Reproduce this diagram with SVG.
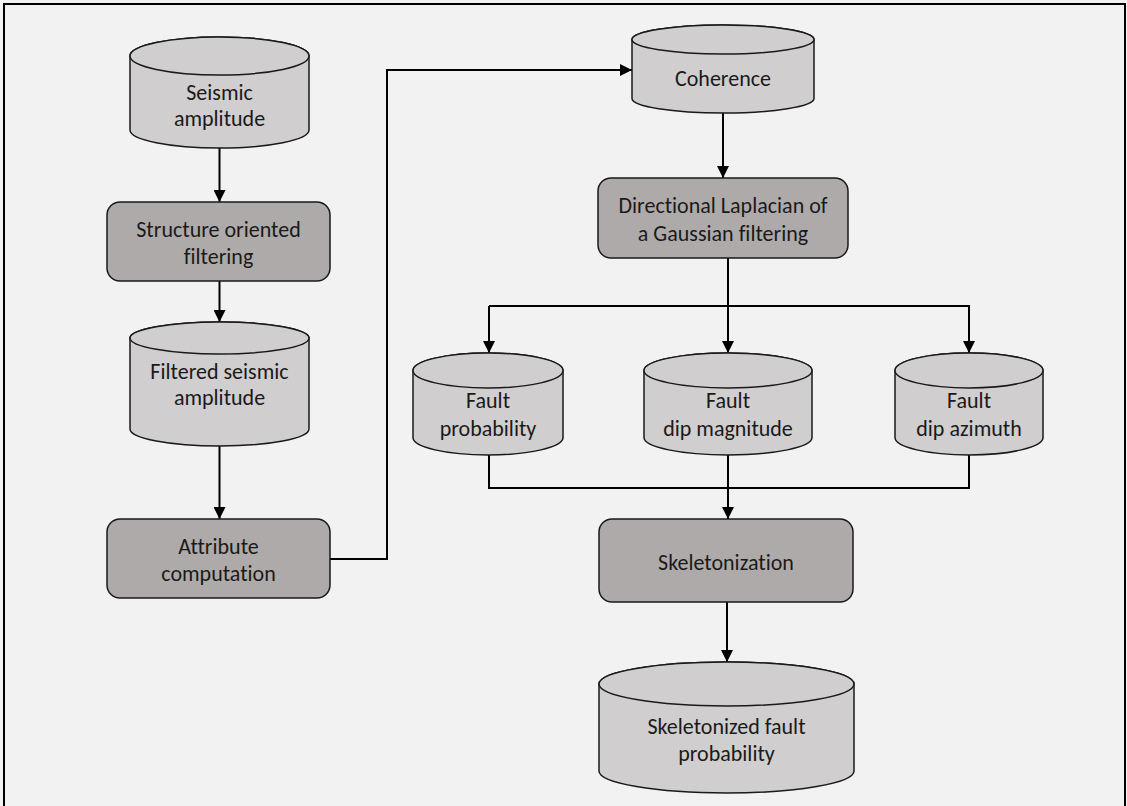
<svg xmlns="http://www.w3.org/2000/svg" width="1127" height="806" viewBox="0 0 1127 806">
<style>
.bg{fill:#f2f2f2}
.frame{fill:none;stroke:#000;stroke-width:2}
.cyl{fill:#d0cece;stroke:#1a1a1a;stroke-width:1.5}
.box{fill:#aeaaaa;stroke:#1a1a1a;stroke-width:1.5}
.t{font-family:Carlito,Lato,"Open Sans",sans-serif;font-size:22px;fill:#1a1a1a;text-anchor:middle;dominant-baseline:central;font-variant-ligatures:none}
.c{fill:none;stroke:#000;stroke-width:2}
</style>
<defs>
<marker id="ah" markerUnits="userSpaceOnUse" markerWidth="12" markerHeight="12" viewBox="0 0 12 12" refX="12" refY="6" orient="auto">
<path d="M0,0 L12,6 L0,12 Z" fill="#000"/>
</marker>
</defs>
<rect class="bg" x="0" y="0" width="1127" height="806"/>
<rect class="frame" x="4" y="4" width="1121" height="820"/>

<g id="connectors">
<path class="c" d="M219.5,148 V202" marker-end="url(#ah)"/>
<path class="c" d="M219.5,281 V322" marker-end="url(#ah)"/>
<path class="c" d="M219.5,446 V519" marker-end="url(#ah)"/>
<path class="c" d="M330,559 H387 V70 H632" marker-end="url(#ah)"/>
<path class="c" d="M723,113 V178" marker-end="url(#ah)"/>
<path class="c" d="M728,258 V353" marker-end="url(#ah)"/>
<path class="c" d="M489,306 H969 V353" marker-end="url(#ah)"/>
<path class="c" d="M489,306 V353" marker-end="url(#ah)"/>
<path class="c" d="M489,455 V488 H969 V455"/>
<path class="c" d="M728,455 V519" marker-end="url(#ah)"/>
<path class="c" d="M727,602 V662" marker-end="url(#ah)"/>
</g>

<g id="seismic">
<path class="cyl" d="M130,56 A89.5,19 0 0 1 309,56 V130 A89.5,18 0 0 1 130,130 Z"/>
<ellipse class="cyl" cx="219.5" cy="56" rx="89.5" ry="19"/>
<text class="t" x="219.5" y="92">Seismic</text>
<text class="t" x="219.5" y="118">amplitude</text>
</g>

<g id="sof">
<rect class="box" x="107" y="202" width="223" height="79" rx="13"/>
<text class="t" x="218.5" y="229">Structure oriented</text>
<text class="t" x="218.5" y="256">filtering</text>
</g>

<g id="filtered">
<path class="cyl" d="M130,338 A89.5,16 0 0 1 309,338 V429 A89.5,17 0 0 1 130,429 Z"/>
<ellipse class="cyl" cx="219.5" cy="338" rx="89.5" ry="16"/>
<text class="t" x="219.5" y="371">Filtered seismic</text>
<text class="t" x="219.5" y="397">amplitude</text>
</g>

<g id="attr">
<rect class="box" x="107" y="519" width="223" height="79" rx="13"/>
<text class="t" x="218.5" y="546">Attribute</text>
<text class="t" x="218.5" y="573">computation</text>
</g>

<g id="coherence">
<path class="cyl" d="M632,39.5 A91,14.5 0 0 1 814,39.5 V98.5 A91,14.5 0 0 1 632,98.5 Z"/>
<ellipse class="cyl" cx="723" cy="39.5" rx="91" ry="14.5"/>
<text class="t" x="723" y="78">Coherence</text>
</g>

<g id="dlog">
<rect class="box" x="598" y="178" width="250" height="80" rx="13"/>
<text class="t" x="723" y="205">Directional Laplacian of</text>
<text class="t" x="723" y="233">a Gaussian filtering</text>
</g>

<g id="faultprob">
<path class="cyl" d="M413,370.5 A75,17.5 0 0 1 563,370.5 V437.5 A75,17.5 0 0 1 413,437.5 Z"/>
<ellipse class="cyl" cx="488" cy="370.5" rx="75" ry="17.5"/>
<text class="t" x="488" y="400">Fault</text>
<text class="t" x="488" y="428">probability</text>
</g>

<g id="dipmag">
<path class="cyl" d="M644,370.5 A84,17.5 0 0 1 812,370.5 V437.5 A84,17.5 0 0 1 644,437.5 Z"/>
<ellipse class="cyl" cx="728" cy="370.5" rx="84" ry="17.5"/>
<text class="t" x="728" y="400">Fault</text>
<text class="t" x="728" y="428">dip magnitude</text>
</g>

<g id="dipazi">
<path class="cyl" d="M895,370.5 A74,17.5 0 0 1 1043,370.5 V437.5 A74,17.5 0 0 1 895,437.5 Z"/>
<ellipse class="cyl" cx="969" cy="370.5" rx="74" ry="17.5"/>
<text class="t" x="969" y="400">Fault</text>
<text class="t" x="969" y="428">dip azimuth</text>
</g>

<g id="skel">
<rect class="box" x="599" y="519" width="254" height="83" rx="13"/>
<text class="t" x="726" y="562">Skeletonization</text>
</g>

<g id="skelprob">
<path class="cyl" d="M599,684 A127.5,22 0 0 1 854,684 V771 A127.5,22 0 0 1 599,771 Z"/>
<ellipse class="cyl" cx="726.5" cy="684" rx="127.5" ry="22"/>
<text class="t" x="726.5" y="726">Skeletonized fault</text>
<text class="t" x="726.5" y="753">probability</text>
</g>
</svg>
